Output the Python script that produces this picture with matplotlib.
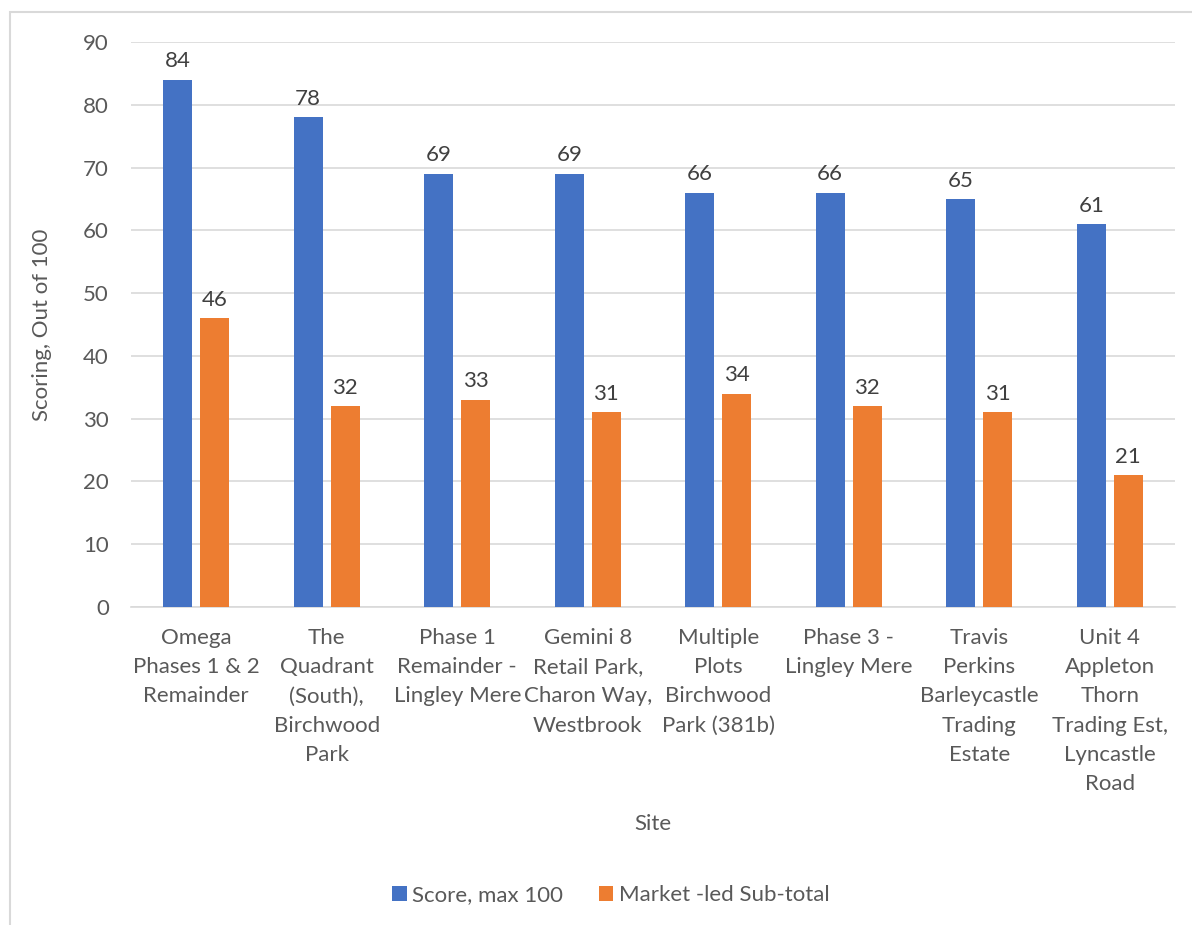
import numpy as np
import matplotlib.pyplot as plt
from matplotlib.patches import Rectangle

plt.rcParams['font.family'] = ['Lato', 'DejaVu Sans']

# site names (wrapped as in the chart)
sites = ["Omega\nPhases 1 & 2\nRemainder",
         "The\nQuadrant\n(South),\nBirchwood\nPark",
         "Phase 1\nRemainder -\nLingley Mere",
         "Gemini 8\nRetail Park,\nCharon Way,\nWestbrook",
         "Multiple\nPlots\nBirchwood\nPark (381b)",
         "Phase 3 -\nLingley Mere",
         "Travis\nPerkins\nBarleycastle\nTrading\nEstate",
         "Unit 4\nAppleton\nThorn\nTrading Est,\nLyncastle\nRoad"]
score = [84, 78, 69, 69, 66, 66, 65, 61]
market_led = [46, 32, 33, 31, 34, 32, 31, 21]
yticks = [0, 10, 20, 30, 40, 50, 60, 70, 80, 90]

txt = '#595959'
grid = '#D9D9D9'
fs = 16

fig = plt.figure(figsize=(11.92, 9.25), dpi=100)
# light frame round the chart area
fig.patches.append(Rectangle((10/1192, -0.1), 1.2, 1 - 12/925 + 0.1,
                             transform=fig.transFigure, fill=False,
                             edgecolor=grid, lw=1.5))

ax = fig.add_axes([131/1192, 1 - 607/925, (1175-131)/1192, (607-42)/925])
x = np.arange(len(sites))
w = 0.22
b1 = ax.bar(x - 0.142, score, w, color='#4472C4', label='Score, max 100', zorder=3)
b2 = ax.bar(x + 0.142, market_led, w, color='#ED7D31', label='Market -led Sub-total', zorder=3)

for bars in (b1, b2):
    for r in bars:
        ax.annotate(f"{r.get_height():.0f}", (r.get_x() + r.get_width()/2, r.get_height()),
                    xytext=(0, 6), textcoords='offset points', ha='center', va='bottom',
                    fontsize=fs, color='#404040')

ax.set_ylim(0, 90)
ax.set_xlim(-0.5, len(sites) - 0.5)
ax.set_yticks(yticks)
ax.yaxis.grid(True, color=grid, lw=1.2, zorder=0)
ax.set_xticks(x)
ax.set_xticklabels(sites, linespacing=1.58)
ax.tick_params(axis='both', length=0, labelsize=fs, colors=txt)
ax.tick_params(axis='x', pad=15)
ax.tick_params(axis='y', pad=16)
for s in ['top', 'right', 'left']:
    ax.spines[s].set_visible(False)
ax.spines['bottom'].set_color(grid)
ax.spines['bottom'].set_linewidth(1.2)

ax.set_ylabel('Scoring, Out of 100', fontsize=fs, color=txt, labelpad=22)
ax.set_xlabel('Site', fontsize=fs, color=txt, labelpad=14)

fig.legend(handles=[b1, b2], loc='center', bbox_to_anchor=(611/1192, 1 - 895/925),
           ncol=2, frameon=False, fontsize=fs, labelcolor=txt,
           handlelength=0.65, handleheight=0.65, columnspacing=1.6, handletextpad=0.25)

fig.savefig('out.png', dpi=100, facecolor='white')
